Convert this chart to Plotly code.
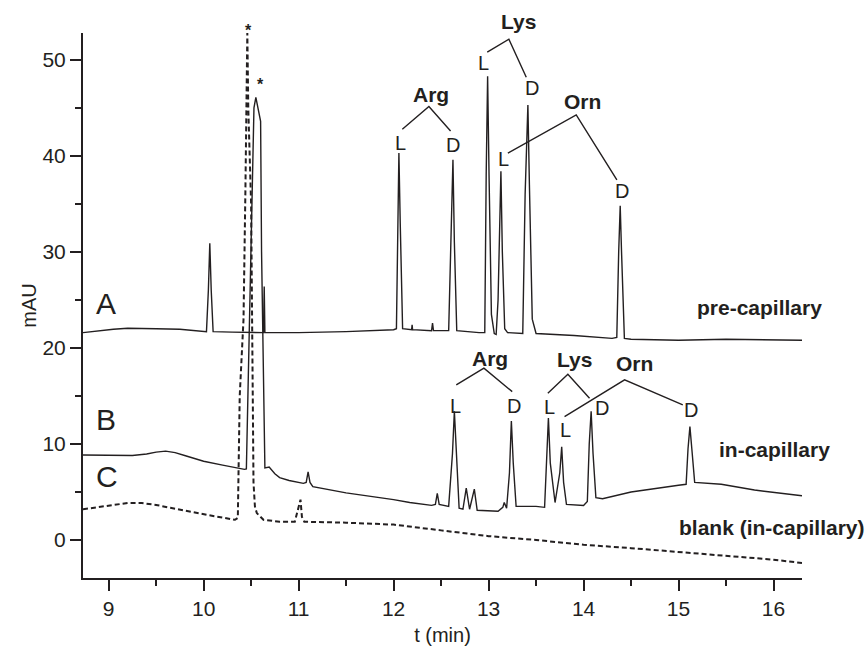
import plotly.graph_objects as go

# ---------------- data ----------------
t_pre = [8.73, 8.9, 9.05, 9.2, 9.35, 9.5, 9.75, 10.0, 10.03, 10.05, 10.065, 10.08, 10.10, 10.3, 10.5,
         10.63, 10.638, 10.645, 10.8, 11.0, 11.5, 12.0, 12.03, 12.045, 12.056, 12.07, 12.095,
         12.19, 12.195, 12.20, 12.40, 12.41, 12.42, 12.58, 12.60, 12.625, 12.64, 12.665,
         12.9, 12.96, 12.975, 12.99, 13.005, 13.03, 13.06, 13.08, 13.10, 13.115, 13.13,
         13.145, 13.17, 13.2, 13.36, 13.385, 13.414, 13.43, 13.46, 13.5, 13.9, 14.3, 14.35,
         14.37, 14.386, 14.40, 14.43, 14.5, 15.0, 15.5, 16.0, 16.3]
y_pre = [21.6, 21.8, 21.95, 22.05, 22.05, 22.0, 21.95, 21.7, 21.7, 26.0, 30.9, 26.0, 21.7, 21.65, 21.6,
         21.6, 26.4, 21.6, 21.6, 21.6, 21.7, 21.9, 22.0, 33.0, 40.3, 33.0, 22.0,
         21.9, 22.4, 21.9, 21.8, 22.6, 21.8, 21.8, 30.0, 39.6, 31.0, 21.8,
         21.6, 21.6, 38.0, 48.3, 38.0, 23.5, 21.5, 21.4, 25.0, 34.0, 38.4,
         30.0, 22.0, 21.6, 21.5, 36.0, 45.3, 37.0, 23.0, 21.5, 21.3, 21.0, 21.1,
         30.0, 34.8, 30.0, 21.0, 20.9, 20.8, 20.9, 20.8, 20.8]

t_in = [8.73, 9.0, 9.25, 9.4, 9.5, 9.6, 9.7, 9.8, 10.0, 10.2, 10.43, 10.45, 10.476, 10.50, 10.53,
        10.55, 10.60, 10.61, 10.63, 10.645, 10.69, 10.75, 10.80, 10.9, 11.05, 11.08, 11.10, 11.12, 11.15,
        11.5, 12.0, 12.17, 12.40, 12.44, 12.46, 12.48, 12.58, 12.62, 12.64, 12.66, 12.69,
        12.73, 12.765, 12.80, 12.85, 12.88, 13.1, 13.15, 13.165, 13.19, 13.22, 13.24, 13.26,
        13.29, 13.5, 13.59, 13.61, 13.63, 13.65, 13.70, 13.75, 13.77, 13.79, 13.82, 14.0,
        14.04, 14.06, 14.08, 14.10, 14.13, 14.2, 14.5, 15.0, 15.08, 15.10, 15.12, 15.14,
        15.17, 15.45, 15.8, 16.3]
y_in = [8.85, 8.8, 8.8, 8.95, 9.15, 9.25, 9.1, 8.8, 8.2, 7.8, 7.35, 7.4, 20.0, 33.6, 45.0,
        46.1, 43.6, 30.0, 14.6, 7.5, 7.6, 6.9, 6.5, 6.2, 5.9, 6.0, 7.1, 6.0, 5.55,
        4.9, 4.2, 3.9, 3.6, 3.7, 4.86, 3.7, 3.5, 9.0, 13.4, 9.0, 3.3,
        3.2, 5.4, 3.2, 5.3, 3.1, 3.0, 3.4, 3.9, 3.3, 7.0, 12.4, 8.0,
        3.5, 3.5, 3.4, 9.0, 12.7, 8.0, 3.9, 7.0, 9.7, 6.0, 3.7, 3.6,
        4.0, 10.0, 13.4, 9.0, 4.4, 4.3, 5.0, 5.7, 5.8, 9.5, 11.8, 9.5,
        6.0, 5.8, 5.2, 4.6]

t_blank = [8.73, 8.9, 9.05, 9.2, 9.35, 9.5, 9.65, 9.8, 10.1, 10.33, 10.36, 10.38, 10.42, 10.44, 10.46, 10.47,
           10.48, 10.50, 10.52, 10.525, 10.54, 10.56, 10.63, 10.8, 10.96, 11.0, 11.02,
           11.035, 11.06, 11.5, 12.0, 12.5, 13.0, 13.5, 14.0, 14.5, 15.0, 15.5, 16.0, 16.3]
y_blank = [3.2, 3.45, 3.7, 3.85, 3.85, 3.65, 3.35, 3.05, 2.5, 2.1, 2.3, 15.0, 23.0, 36.5, 52.8, 45.0,
           41.7, 35.0, 12.0, 6.0, 3.5, 2.8, 2.1, 1.9, 1.9, 3.5, 4.2,
           2.4, 1.9, 1.8, 1.6, 1.0, 0.4, 0.0, -0.5, -0.85, -1.25, -1.7, -2.05, -2.4]

x_ticks = [9, 10, 11, 12, 13, 14, 15, 16]
y_ticks = [0, 10, 20, 30, 40, 50]
X_RANGE = [8.73, 16.3]
Y_RANGE = [-3.96, 52.8]

INK = "#231f20"
FONT = "Liberation Sans, Arial, Helvetica, sans-serif"


def ypaper(v):
    return (v - Y_RANGE[0]) / (Y_RANGE[1] - Y_RANGE[0])


fig = go.Figure()
fig.add_trace(go.Scatter(x=t_pre, y=y_pre, mode="lines", name="pre-capillary",
                         line=dict(color=INK, width=1.4)))
fig.add_trace(go.Scatter(x=t_in, y=y_in, mode="lines", name="in-capillary",
                         line=dict(color=INK, width=1.4)))
fig.add_trace(go.Scatter(x=t_blank, y=y_blank, mode="lines", name="blank (in-capillary)",
                         line=dict(color=INK, width=2, dash="5px,3px")))

annotations = []
LBL = 21   # bold compound / curve labels
LD = 20    # L / D letters


def txt(x, y, s, size=LD, bold=False, yref="y"):
    annotations.append(dict(x=x, y=y, xref="x", yref=yref, text=("<b>%s</b>" % s) if bold else s,
                            showarrow=False, xanchor="center", yanchor="middle",
                            font=dict(family=FONT, size=size, color=INK)))


shapes = []


def bracket(pts):
    path = "M " + " L ".join("%g,%g" % p for p in pts)
    shapes.append(dict(type="path", path=path, xref="x", yref="y",
                       line=dict(color=INK, width=1.4)))


# pre-capillary peak labels
txt(12.397, 46.35, "Arg", LBL, True)
bracket([(12.092, 42.78), (12.372, 45.14), (12.60, 42.6)])
txt(12.07, 41.3, "L")
txt(12.624, 41.15, "D")
txt(13.319, ypaper(53.99), "Lys", LBL, True, yref="paper")
bracket([(12.986, 50.80), (13.214, 52.16), (13.397, 48.2)])
txt(12.951, 49.66, "L")
txt(13.46, 47.05, "D")
txt(13.993, 45.66, "Orn", LBL, True)
bracket([(13.203, 40.28), (13.923, 44.27), (14.351, 37.5)])
txt(13.158, 39.66, "L")
txt(14.407, 36.39, "D")

# in-capillary peak labels
txt(13.011, 18.93, "Arg", LBL, True)
bracket([(12.66, 16.15), (12.951, 17.89), (13.249, 15.45)])
txt(12.653, 13.96, "L")
txt(13.266, 13.96, "D")
txt(13.905, 18.75, "Lys", LBL, True)
bracket([(13.624, 15.28), (13.835, 17.26), (14.063, 14.76)])
txt(13.642, 13.89, "L")
txt(14.197, 13.72, "D")
txt(14.537, 18.41, "Orn", LBL, True)
bracket([(13.80, 12.84), (14.432, 16.67), (15.045, 14.06)])
txt(13.811, 11.46, "L")
txt(15.134, 13.54, "D")

# asterisks
txt(10.477, ypaper(53.05), "*", 16, True, yref="paper")
txt(10.597, 47.4, "*", 16, True)

# curve names
txt(15.853, 24.17, "pre-capillary", LBL, True)
txt(16.011, 9.375, "in-capillary", LBL, True)
txt(15.984, 1.35, "blank (in-capillary)", LBL, True)

# trace letters
txt(8.976, 24.66, "A", 30)
txt(8.976, 12.5, "B", 30)
txt(8.98, 6.6, "C", 30)

axis_common = dict(showline=True, linewidth=2, linecolor=INK, ticks="outside",
                   tickwidth=2, tickcolor=INK, ticklen=11, showgrid=False, zeroline=False,
                   tickfont=dict(family=FONT, size=21, color=INK), automargin=False)

fig.update_layout(
    width=867, height=646,
    margin=dict(l=83, r=65, t=33, b=68),
    paper_bgcolor="white", plot_bgcolor="white",
    showlegend=False,
    annotations=annotations,
    shapes=shapes,
    xaxis=dict(range=X_RANGE, tickvals=x_ticks, **axis_common,
               minor=dict(dtick=0.5, tick0=9, ticklen=6, tickwidth=2, tickcolor=INK, ticks="outside"),
               title=dict(text="t (min)", font=dict(family=FONT, size=20, color=INK), standoff=12)),
    yaxis=dict(range=Y_RANGE, tickvals=y_ticks, **axis_common,
               minor=dict(dtick=5, tick0=0, ticklen=6, tickwidth=2, tickcolor=INK, ticks="outside"),
               title=dict(text="mAU", font=dict(family=FONT, size=20, color=INK), standoff=0)),
)

fig.write_html("out.html")
